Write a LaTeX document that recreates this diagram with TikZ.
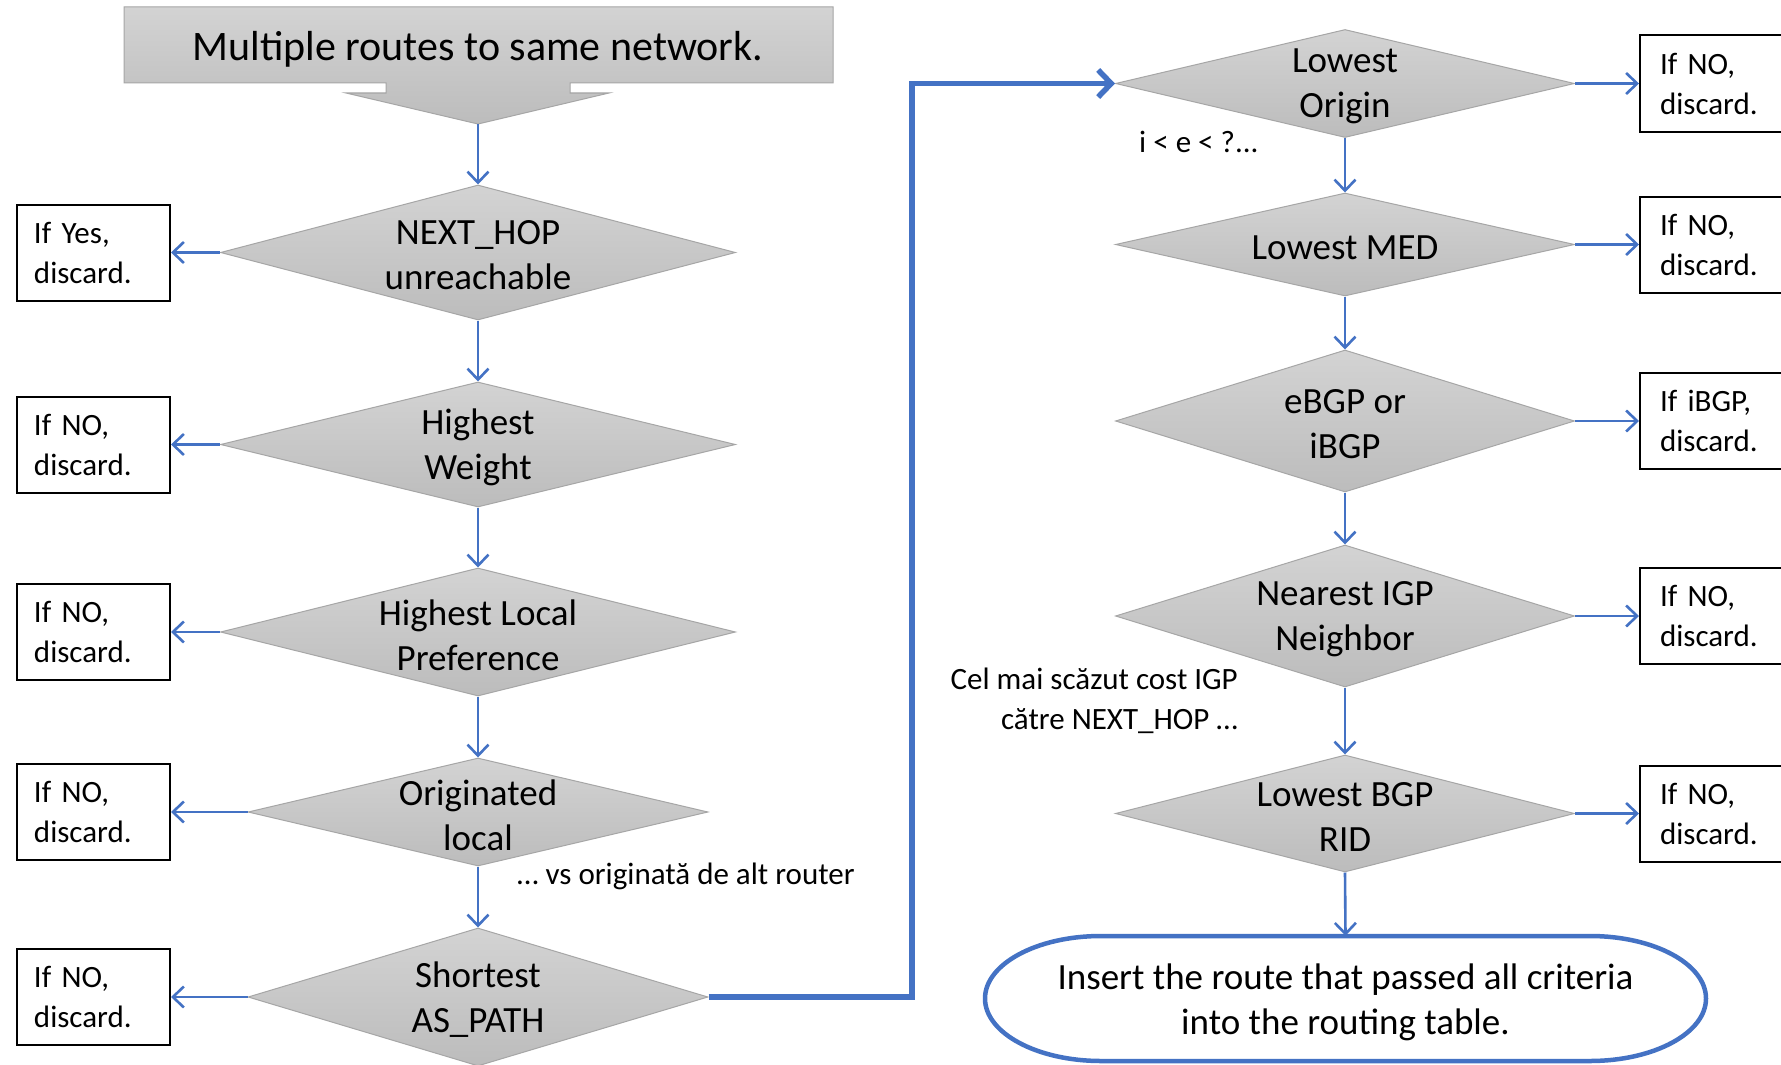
\documentclass[tikz,border=0pt]{standalone}
\usepackage{fontspec}
\setmainfont{Carlito}
\usetikzlibrary{arrows.meta,shapes.geometric}
\definecolor{flowblue}{HTML}{4472C4}
\definecolor{dtop}{HTML}{D3D3D3}
\definecolor{dbot}{HTML}{BCBCBC}
\definecolor{dedge}{HTML}{A6A6A6}

\tikzset{
  decision/.style={diamond, draw=dedge, line width=1pt, top color=dtop, bottom color=dbot, inner sep=0pt},
  dtext/.style={font=\fontsize{37}{45}\selectfont, align=center, inner sep=0pt, yshift=-3pt},
  smalltext/.style={font=\fontsize{31}{40}\selectfont, inner sep=0pt},
  discardbox/.style={rectangle, draw=black, fill=white, line width=2pt, minimum height=96pt,
    inner xsep=17pt, text width=119pt, align=left, font=\fontsize{31}{40}\selectfont},
  flow/.style={draw=flowblue, line width=2.6pt, -{Straight Barb[length=11pt,width=21pt]}},
  mainflow/.style={draw=flowblue, line width=5.5pt, -{Straight Barb[length=13pt,width=27pt]}},
}

\begin{document}
\begin{tikzpicture}[x=1pt,y=-1pt]
\clip (0,0) rectangle (1781,1065);
\fill[white] (0,0) rectangle (1781,1065);

% title callout
\path[draw=dedge, line width=1pt, top color=dtop, bottom color=dbot]
  (124,7) -- (833,7) -- (833,83) -- (570,83) -- (570,93) -- (609,93) -- (478,124)
  -- (346,93) -- (386,93) -- (386,83) -- (124,83) -- cycle;
\node[font=\fontsize{42}{50}\selectfont, inner sep=0pt] (title) at (478,49.5) {Multiple routes to same network.};
\coordinate (titletip) at (478,124);

% left column of decisions
\node[decision, minimum width=515pt, minimum height=135pt] (d1) at (478,252.5) {};
\node[dtext] (d1t) at (d1) {NEXT\_HOP\\unreachable};
\node[decision, minimum width=515pt, minimum height=125pt] (d2) at (478,444.5) {};
\node[dtext] (d2t) at (d2) {Highest\\Weight};
\node[decision, minimum width=515pt, minimum height=128pt] (d3) at (478,632) {};
\node[dtext] (d3t) at (d3) {Highest Local\\Preference};
\node[decision, minimum width=460pt, minimum height=108pt] (d4) at (478,812) {};
\node[dtext] (d4t) at (d4) {Originated\\local};
\node[decision, minimum width=460pt, minimum height=138pt] (d5) at (478,997) {};
\node[dtext] (d5t) at (d5) {Shortest\\AS\_PATH};

% left discard boxes
\node[discardbox, anchor=west] (b1) at (16,252.5) {If Yes,\\discard.};
\node[discardbox, anchor=west] (b2) at (16,444.5) {If NO,\\discard.};
\node[discardbox, anchor=west] (b3) at (16,632) {If NO,\\discard.};
\node[discardbox, anchor=west] (b4) at (16,812) {If NO,\\discard.};
\node[discardbox, anchor=west] (b5) at (16,997) {If NO,\\discard.};

% right column of decisions
\node[decision, minimum width=459pt, minimum height=108pt] (r1) at (1345,83.5) {};
\node[dtext] (r1t) at (r1) {Lowest\\Origin};
\node[decision, minimum width=459pt, minimum height=103pt] (r2) at (1345,244.5) {};
\node[dtext] (r2t) at (r2) {Lowest MED};
\node[decision, minimum width=459pt, minimum height=142pt] (r3) at (1345,421) {};
\node[dtext] (r3t) at (r3) {eBGP or\\iBGP};
\node[decision, minimum width=459pt, minimum height=142pt] (r4) at (1345,616) {};
\node[dtext] (r4t) at (r4) {Nearest IGP\\Neighbor};
\node[decision, minimum width=459pt, minimum height=117pt] (r5) at (1345,813.5) {};
\node[dtext] (r5t) at (r5) {Lowest BGP\\RID};

% right discard boxes
\node[discardbox, anchor=west, inner xsep=20pt, text width=130pt] (rb1) at (1639,83.5) {If NO,\\discard.};
\node[discardbox, anchor=west, inner xsep=20pt, text width=130pt] (rb2) at (1639,244.5) {If NO,\\discard.};
\node[discardbox, anchor=west, inner xsep=20pt, text width=130pt] (rb3) at (1639,421) {If iBGP,\\discard.};
\node[discardbox, anchor=west, inner xsep=20pt, text width=130pt] (rb4) at (1639,616) {If NO,\\discard.};
\node[discardbox, anchor=west, inner xsep=20pt, text width=130pt] (rb5) at (1639,813.5) {If NO,\\discard.};

% terminator: outline with elliptical ends, text set slightly below centre
\node[minimum width=721pt, minimum height=125pt, inner sep=0pt] (term) at (1345.5,998.5) {};
\draw[flowblue, line width=4.5pt]
  (1101,936) -- (1590,936) arc[start angle=90, end angle=-90, x radius=116pt, y radius=62.5pt]
  -- (1101,1061) arc[start angle=270, end angle=90, x radius=116pt, y radius=62.5pt] -- cycle;
\node[font=\fontsize{37}{45}\selectfont, inner sep=0pt, align=center] (termtext) at (1345.5,1002)
  {Insert the route that passed all criteria\\into the routing table.};

% notes
\node[smalltext, anchor=west] (noteorigin) at (1139,142) {i < e < ?...};
\node[smalltext, anchor=west] (notelocal) at (517,876) {… vs originată de alt router};
\node[smalltext, anchor=east, align=right] (noteigp) at (1238,700.5) {Cel mai scăzut cost IGP\\către NEXT\_HOP …};

% connectors
\draw[flow] (titletip) -- (d1.north);
\draw[flow] (d1.south) -- (d2.north);
\draw[flow] (d2.south) -- (d3.north);
\draw[flow] (d3.south) -- (d4.north);
\draw[flow] (d4.south) -- (d5.north);
\draw[flow] (d1.west) -- (b1.east);
\draw[flow] (d2.west) -- (b2.east);
\draw[flow] (d3.west) -- (b3.east);
\draw[flow] (d4.west) -- (b4.east);
\draw[flow] (d5.west) -- (b5.east);

\coordinate (bend) at (912,83.5);
\draw[mainflow] (d5.east) -| (bend) -- (r1.west);

\draw[flow] (r1.south) -- (r2.north);
\draw[flow] (r2.south) -- (r3.north);
\draw[flow] (r3.south) -- (r4.north);
\draw[flow] (r4.south) -- (r5.north);
\draw[flow] (r5.south) -- (term.north);
\draw[flow] (r1.east) -- (rb1.west);
\draw[flow] (r2.east) -- (rb2.west);
\draw[flow] (r3.east) -- (rb3.west);
\draw[flow] (r4.east) -- (rb4.west);
\draw[flow] (r5.east) -- (rb5.west);
\end{tikzpicture}
\end{document}
